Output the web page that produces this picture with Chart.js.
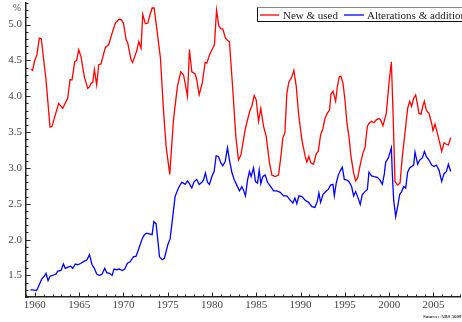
<!DOCTYPE html>
<html>
<head>
<meta charset="utf-8">
<script src="https://cdn.jsdelivr.net/npm/chart.js@4/dist/chart.umd.min.js"></script>
<style>
  html, body { margin: 0; padding: 0; background: #fff; }
  #chart { display: block; }
</style>
</head>
<body>
<canvas id="chart" width="462" height="322"></canvas>
<script>
// Series labels
const seriesNames = ['New & used', 'Alterations & additions'];

// New & used: dates (decimal years) and values (%)
const newUsedYears = [
  1959.56, 1959.75, 1959.94, 1960.24, 1960.5, 1960.73, 1961.26, 1961.71, 1961.94, 1962.31,
  1962.69, 1963.14, 1963.71, 1963.97, 1964.2, 1964.5, 1964.72, 1964.95, 1965.21, 1965.59,
  1965.97, 1966.16, 1966.34, 1966.53, 1966.72, 1966.98, 1967.21, 1967.47, 1967.96, 1968.34,
  1968.72, 1969.09, 1969.47, 1969.73, 1970.0, 1970.3, 1970.49, 1970.86, 1971.05, 1971.35,
  1971.5, 1971.73, 1971.99, 1972.18, 1972.48, 1972.75, 1973.01, 1973.24, 1973.46, 1973.69,
  1974.18, 1974.52, 1974.82, 1975.23, 1975.65, 1976.1, 1976.48, 1976.78, 1976.97, 1977.23,
  1977.45, 1977.72, 1978.1, 1978.28, 1978.55, 1978.89, 1979.23, 1979.41, 1979.79, 1980.17,
  1980.28, 1980.51, 1980.77, 1981.0, 1981.22, 1981.52, 1981.75, 1981.97, 1982.35, 1982.69,
  1982.99, 1983.26, 1983.74, 1984.01, 1984.31, 1984.5, 1984.76, 1984.99, 1985.25, 1985.51,
  1985.82, 1986.12, 1986.49, 1986.76, 1987.13, 1987.51, 1987.78, 1988.0, 1988.23, 1988.45,
  1988.68, 1988.98, 1989.24, 1989.51, 1989.77, 1990.15, 1990.52, 1990.71, 1990.94, 1991.16,
  1991.46, 1991.77, 1992.0, 1992.26, 1992.53, 1992.75, 1993.01, 1993.28, 1993.43, 1993.66,
  1993.96, 1994.15, 1994.37, 1994.56, 1994.79, 1995.01, 1995.24, 1995.46, 1995.69, 1995.99,
  1996.22, 1996.44, 1996.78, 1997.05, 1997.27, 1997.54, 1997.72, 1998.02, 1998.29, 1998.55,
  1998.85, 1999.04, 1999.3, 1999.68, 1999.98, 2000.25, 2000.43, 2000.66, 2000.96, 2001.23,
  2001.49, 2001.87, 2002.09, 2002.32, 2002.54, 2002.77, 2002.99, 2003.18, 2003.37, 2003.6,
  2003.82, 2003.98, 2004.2, 2004.5, 2004.8, 2004.95, 2005.18, 2005.44, 2005.71, 2005.93,
  2006.2, 2006.46, 2006.69, 2006.95
];
const newUsedValues = [
  4.38, 4.36, 4.48, 4.58, 4.81, 4.80, 4.23, 3.57, 3.58, 3.74,
  3.90, 3.83, 3.97, 4.23, 4.23, 4.48, 4.50, 4.65, 4.55, 4.27,
  4.11, 4.13, 4.18, 4.19, 4.37, 4.16, 4.44, 4.45, 4.68, 4.72,
  4.88, 5.02, 5.07, 5.07, 5.02, 4.79, 4.74, 4.51, 4.47, 4.58,
  4.63, 4.76, 4.67, 5.14, 5.01, 5.02, 5.14, 5.23, 5.23, 5.02,
  4.53, 3.81, 3.30, 2.91, 3.67, 4.14, 4.34, 4.30, 4.18, 4.00,
  4.65, 4.34, 4.31, 4.23, 4.02, 4.18, 4.47, 4.46, 4.60, 4.69,
  4.72, 5.20, 4.98, 4.94, 4.94, 4.81, 4.78, 4.76, 4.09, 3.44,
  3.11, 3.18, 3.53, 3.67, 3.81, 3.86, 4.01, 3.95, 3.65, 3.83,
  3.58, 3.44, 3.07, 2.90, 2.88, 2.90, 3.16, 3.42, 3.49, 4.04,
  4.20, 4.26, 4.36, 4.14, 3.76, 3.39, 3.16, 3.08, 3.16, 3.07,
  3.05, 3.20, 3.23, 3.46, 3.55, 3.69, 3.76, 3.81, 4.03, 4.07,
  3.93, 4.13, 4.27, 4.28, 4.18, 3.95, 3.62, 3.44, 3.16, 2.93,
  2.82, 2.86, 3.07, 3.21, 3.28, 3.58, 3.62, 3.65, 3.63, 3.67,
  3.69, 3.67, 3.59, 3.76, 4.18, 4.48, 3.81, 2.81, 2.76, 2.79,
  3.16, 3.58, 3.83, 3.93, 3.86, 3.97, 4.02, 3.90, 3.76, 3.75,
  3.87, 3.93, 3.80, 3.76, 3.62, 3.52, 3.61, 3.49, 3.35, 3.23,
  3.35, 3.33, 3.32, 3.42
];

// Alterations & additions: dates (decimal years) and values (%)
const altAddYears = [
  1959.5, 1959.75, 1960.2, 1960.5, 1960.77, 1961.07, 1961.26, 1961.49, 1961.71, 1962.01,
  1962.39, 1962.58, 1962.95, 1963.22, 1963.44, 1963.82, 1964.05, 1964.27, 1964.57, 1964.84,
  1965.21, 1965.59, 1965.89, 1966.16, 1966.46, 1966.72, 1966.98, 1967.29, 1967.59, 1967.89,
  1968.11, 1968.42, 1968.72, 1968.94, 1969.24, 1969.55, 1969.85, 1970.15, 1970.45, 1970.75,
  1971.13, 1971.43, 1971.81, 1972.11, 1972.37, 1972.63, 1972.94, 1973.24, 1973.43, 1973.69,
  1973.92, 1974.07, 1974.37, 1974.63, 1975.01, 1975.27, 1975.55, 1975.83, 1976.21, 1976.59,
  1976.97, 1977.23, 1977.45, 1977.72, 1977.98, 1978.28, 1978.55, 1978.85, 1979.04, 1979.26,
  1979.49, 1979.71, 1979.98, 1980.24, 1980.47, 1980.73, 1981.0, 1981.22, 1981.49, 1981.75,
  1981.97, 1982.24, 1982.5, 1982.8, 1983.1, 1983.37, 1983.56, 1983.78, 1984.01, 1984.23,
  1984.42, 1984.69, 1984.91, 1985.14, 1985.33, 1985.51, 1985.74, 1986.0, 1986.27, 1986.57,
  1986.95, 1987.32, 1987.7, 1988.08, 1988.45, 1988.83, 1989.13, 1989.36, 1989.58, 1989.81,
  1990.15, 1990.52, 1990.9, 1991.28, 1991.62, 1991.88, 1992.07, 1992.26, 1992.53, 1992.83,
  1993.13, 1993.39, 1993.66, 1993.81, 1994.03, 1994.26, 1994.52, 1994.71, 1994.94, 1995.24,
  1995.46, 1995.76, 1995.99, 1996.22, 1996.44, 1996.74, 1996.97, 1997.27, 1997.54, 1997.72,
  1998.02, 1998.29, 1998.66, 1998.97, 1999.23, 1999.46, 1999.61, 1999.91, 2000.25, 2000.36,
  2000.51, 2000.74, 2000.96, 2001.19, 2001.41, 2001.64, 2001.87, 2002.09, 2002.32, 2002.54,
  2002.77, 2002.92, 2003.22, 2003.45, 2003.75, 2003.98, 2004.2, 2004.5, 2004.8, 2005.07,
  2005.33, 2005.63, 2005.93, 2006.2, 2006.46, 2006.69, 2006.95
];
const altAddValues = [
  1.30, 1.30, 1.29, 1.37, 1.45, 1.49, 1.53, 1.43, 1.49, 1.50,
  1.52, 1.56, 1.57, 1.66, 1.60, 1.62, 1.63, 1.60, 1.66, 1.65,
  1.67, 1.70, 1.72, 1.79, 1.65, 1.60, 1.52, 1.50, 1.52, 1.60,
  1.54, 1.53, 1.50, 1.59, 1.58, 1.59, 1.57, 1.59, 1.67, 1.69,
  1.76, 1.77, 1.90, 2.01, 2.07, 2.09, 2.08, 2.07, 2.25, 2.22,
  1.95, 1.76, 1.72, 1.74, 1.93, 2.01, 2.30, 2.60, 2.72, 2.80,
  2.77, 2.82, 2.78, 2.72, 2.81, 2.84, 2.77, 2.80, 2.83, 2.93,
  2.80, 2.77, 2.88, 2.95, 3.17, 3.16, 3.07, 3.03, 3.09, 3.28,
  3.11, 2.94, 2.84, 2.76, 2.68, 2.74, 2.69, 2.61, 2.83, 2.95,
  2.88, 3.00, 2.81, 2.79, 2.97, 2.78, 2.88, 2.90, 2.80, 2.75,
  2.68, 2.68, 2.66, 2.61, 2.61, 2.55, 2.51, 2.58, 2.50, 2.61,
  2.60, 2.55, 2.52, 2.46, 2.45, 2.53, 2.65, 2.52, 2.63, 2.67,
  2.70, 2.76, 2.77, 2.61, 2.79, 2.90, 2.97, 3.01, 2.84, 2.83,
  2.81, 2.74, 2.61, 2.67, 2.60, 2.49, 2.63, 2.67, 2.70, 2.94,
  2.89, 2.88, 2.87, 2.83, 2.77, 2.92, 3.08, 3.14, 3.28, 2.92,
  2.55, 2.32, 2.46, 2.63, 2.67, 2.74, 2.72, 2.94, 3.00, 3.02,
  3.04, 3.22, 3.05, 3.11, 3.14, 3.23, 3.16, 3.11, 3.04, 3.02,
  3.04, 2.97, 2.81, 2.92, 2.95, 3.05, 2.95
];

// Axis ranges and labelling
const yearMin = 1959, yearMax = 2008, yearLabelEvery = 5;
const valueMin = 1.2, valueMax = 5.3, valueStep = 0.1, valueLabelEvery = 0.5;
const unitLabel = '%';
const sourceNote = 'Source: ABS 5609';

const toPoints = (xs, ys) => xs.map((x, i) => ({ x: x, y: ys[i] }));

const SERIF = "'Liberation Serif', 'DejaVu Serif', serif";
const isYearLabel = v => Math.abs(v / yearLabelEvery - Math.round(v / yearLabelEvery)) < 1e-6;
const isValueLabel = v => Math.abs(v / valueLabelEvery - Math.round(v / valueLabelEvery)) < 1e-6;

// Fixed axis footprint so the plot area spans the full canvas
const fixAxis = (size) => (s) => {
  if (s.isHorizontal()) { s.height = size; } else { s.width = size; }
  s.paddingTop = 0; s.paddingBottom = 0; s.paddingLeft = 0; s.paddingRight = 0;
};

// Inward tick marks, unit label, legend box and source note
const decorations = {
  id: 'decorations',
  afterDraw(chart) {
    const ctx = chart.ctx;
    const xs = chart.scales.x, ys = chart.scales.y;
    const area = chart.chartArea;
    ctx.save();
    ctx.strokeStyle = '#222';
    ctx.lineWidth = 1;
    ctx.beginPath();
    ys.ticks.forEach(t => {
      const py = Math.round(ys.getPixelForValue(t.value)) + 0.5;
      const len = isValueLabel(t.value) ? 4.5 : 2.5;
      ctx.moveTo(area.left, py);
      ctx.lineTo(area.left + len, py);
    });
    xs.ticks.forEach(t => {
      const px = Math.round(xs.getPixelForValue(t.value)) + 0.5;
      const len = isYearLabel(t.value) ? 4.5 : 2.5;
      ctx.moveTo(px, area.bottom);
      ctx.lineTo(px, area.bottom - len);
    });
    ctx.stroke();

    // unit label above the value axis
    ctx.fillStyle = '#555';
    ctx.font = '10px ' + SERIF;
    ctx.textAlign = 'center';
    ctx.textBaseline = 'middle';
    ctx.fillText(unitLabel, 17, 8);

    // legend box
    const bx = 257.5, by = 7.5, bw = 220, bh = 14;
    ctx.fillStyle = '#fff';
    ctx.fillRect(bx, by, bw, bh);
    ctx.strokeStyle = '#888';
    ctx.beginPath();
    ctx.moveTo(bx, by); ctx.lineTo(bx + bw, by);
    ctx.stroke();
    ctx.strokeStyle = '#111';
    ctx.beginPath();
    ctx.moveTo(bx, by); ctx.lineTo(bx, by + bh); ctx.lineTo(bx + bw, by + bh);
    ctx.stroke();

    const items = [
      { x0: 260, x1: 279, tx: 283 },
      { x0: 344, x1: 364, tx: 367 }
    ];
    ctx.font = '11px ' + SERIF;
    ctx.textAlign = 'left';
    ctx.textBaseline = 'alphabetic';
    chart.data.datasets.forEach((ds, i) => {
      const it = items[i];
      ctx.strokeStyle = ds.borderColor;
      ctx.lineWidth = 1.3;
      ctx.beginPath();
      ctx.moveTo(it.x0, by + 7.5);
      ctx.lineTo(it.x1, by + 7.5);
      ctx.stroke();
      ctx.fillStyle = '#222';
      ctx.fillText(ds.label, it.tx, by + 11);
    });

    // source note
    ctx.fillStyle = '#333';
    ctx.font = 'bold 5px ' + SERIF;
    ctx.fillText(sourceNote, 423, 318);
    ctx.restore();
  }
};

new Chart(document.getElementById('chart'), {
  type: 'line',
  data: {
    datasets: [
      {
        label: seriesNames[0],
        data: toPoints(newUsedYears, newUsedValues),
        borderColor: 'rgb(255,0,0)',
        borderWidth: 1.3,
        pointRadius: 0,
        tension: 0,
        fill: false
      },
      {
        label: seriesNames[1],
        data: toPoints(altAddYears, altAddValues),
        borderColor: 'rgb(0,0,255)',
        borderWidth: 1.3,
        pointRadius: 0,
        tension: 0,
        fill: false
      }
    ]
  },
  options: {
    responsive: false,
    animation: false,
    layout: { padding: { top: 3, right: 2, left: 0, bottom: 0 } },
    plugins: {
      legend: { display: false },
      tooltip: { enabled: false }
    },
    scales: {
      x: {
        type: 'linear',
        min: yearMin,
        max: yearMax,
        grid: { display: false, drawTicks: false },
        border: { display: true, color: '#222', width: 1.5 },
        ticks: {
          stepSize: 1,
          autoSkip: false,
          maxRotation: 0,
          padding: 2,
          color: '#444',
          font: { family: SERIF, size: 11 },
          callback: v => isYearLabel(v) ? String(Math.round(v)) : ''
        },
        afterFit: fixAxis(25)
      },
      y: {
        type: 'linear',
        min: valueMin,
        max: valueMax,
        grid: { display: false, drawTicks: false },
        border: { display: true, color: '#222', width: 1.5 },
        ticks: {
          stepSize: valueStep,
          maxTicksLimit: 100,
          autoSkip: false,
          padding: 4,
          color: '#444',
          font: { family: SERIF, size: 11 },
          callback: v => isValueLabel(v) ? v.toFixed(1) : ''
        },
        afterFit: fixAxis(26)
      }
    }
  },
  plugins: [decorations]
});
</script>
</body>
</html>
